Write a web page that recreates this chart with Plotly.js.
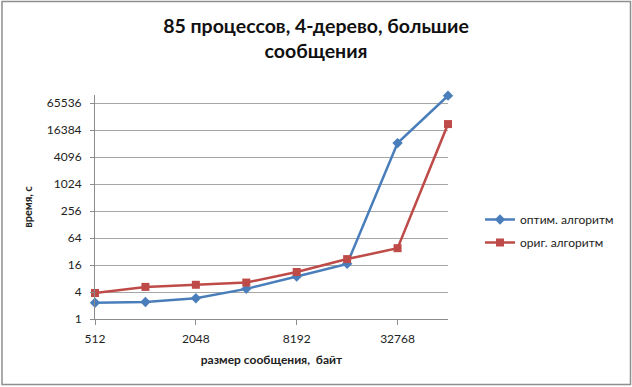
<!DOCTYPE html>
<html>
<head>
<meta charset="utf-8">
<script src="https://cdn.plot.ly/plotly-3.0.1.min.js"></script>
<style>
html,body{margin:0;padding:0;background:#fff;}
#chart{width:632px;height:387px;}
</style>
</head>
<body>
<div id="chart"></div>
<script>
// Data
const categories = ['512','1024','2048','4096','8192','16384','32768','65536'];
const tickLabels = ['512','2048','8192','32768'];
const optimValues = [2.3, 2.4, 2.9, 4.7, 8.9, 17, 8400, 96000];
const origValues = [3.8, 5.2, 5.8, 6.5, 11.2, 21.7, 38, 22300];
const yTickValues = [1, 4, 16, 64, 256, 1024, 4096, 16384, 65536];
const seriesNames = ['оптим. алгоритм', 'ориг. алгоритм'];

const FONT = 'Lato, "Open Sans", sans-serif';
const plotL = 95, plotR = 184, plotT = 95, plotB = 68, W = 632, H = 387;
const pw = W - plotL - plotR, ph = H - plotT - plotB;
function px2x(p){ return (p - plotL) / pw; }
function py2y(p){ return (H - plotB - p) / ph; }

const traces = [
  {
    x: categories, y: optimValues, name: seriesNames[0], type: 'scatter', mode: 'lines+markers',
    legendgroup: 'g1',
    line: {color: '#4A7EBB', width: 2.5},
    marker: {symbol: 'diamond', size: 8, color: '#4A7EBB'},
    cliponaxis: false
  },
  {
    x: categories, y: origValues, name: seriesNames[1], type: 'scatter', mode: 'lines+markers',
    legendgroup: 'g2',
    line: {color: '#BE4B48', width: 2.5},
    marker: {symbol: 'square', size: 8, color: '#BE4B48'},
    cliponaxis: false
  }
];

const layout = {
  width: W, height: H,
  margin: {l: plotL, r: plotR, t: plotT, b: plotB},
  paper_bgcolor: '#fff', plot_bgcolor: '#fff',
  font: {family: FONT, color: '#222', size: 12},
  title: {
    text: '<b>85 процессов, 4-дерево, большие<br>сообщения</b>',
    font: {family: FONT, size: 19.5, color: '#111'},
    x: 0.5, xanchor: 'center', xref: 'container',
    y: 1 - 33/H, yanchor: 'top', yref: 'container'
  },
  xaxis: {
    type: 'category', categoryorder: 'array', categoryarray: categories,
    range: [0, 7],
    tickmode: 'array', tickvals: tickLabels, ticktext: tickLabels,
    showgrid: false, zeroline: false,
    showline: true, linecolor: '#8c8c8c', linewidth: 1,
    ticks: 'outside', ticklen: 5, tickcolor: '#8c8c8c',
    ticklabelstandoff: 4,
    tickfont: {family: FONT, size: 12, color: '#222'},
    title: {text: '<b>размер сообщения,  байт</b>', font: {family: FONT, size: 12, color: '#222'}, standoff: 10}
  },
  yaxis: {
    type: 'log',
    range: [0, Math.log10(Math.pow(2, 16.6))],
    tickmode: 'array', tickvals: yTickValues, ticktext: yTickValues.map(String),
    showgrid: true, gridcolor: '#a6a6a6', gridwidth: 1,
    zeroline: false,
    showline: true, linecolor: '#8c8c8c', linewidth: 1,
    ticks: 'outside', ticklen: 4, tickcolor: '#8c8c8c',
    ticklabelstandoff: 6,
    tickfont: {family: FONT, size: 12, color: '#222'},
    title: {text: '<b>время, с</b>', font: {family: FONT, size: 11, color: '#222'}, standoff: 11}
  },
  legend: {
    x: px2x(480), xanchor: 'left', y: py2y(205), yanchor: 'top',
    font: {family: FONT, size: 12, color: '#222'},
    bgcolor: 'rgba(0,0,0,0)', tracegroupgap: 4, itemwidth: 30
  },
  shapes: [
    {type: 'rect', xref: 'paper', yref: 'paper',
     x0: px2x(2), x1: px2x(630.5), y0: py2y(384.5), y1: py2y(1.5),
     line: {color: '#8f8f8f', width: 1.5}, fillcolor: 'rgba(0,0,0,0)', layer: 'below'}
  ],
  showlegend: true
};

Plotly.newPlot('chart', traces, layout, {displayModeBar: false, staticPlot: true});
</script>
</body>
</html>
